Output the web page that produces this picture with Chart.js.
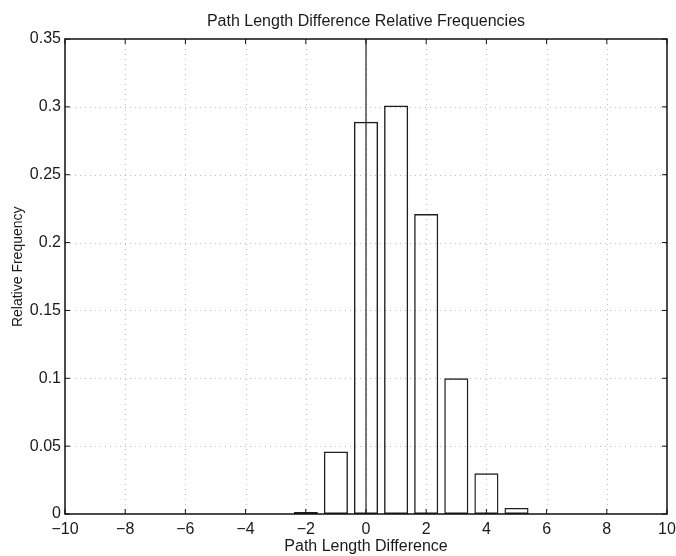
<!DOCTYPE html>
<html><head><meta charset="utf-8">
<script src="https://cdn.jsdelivr.net/npm/chart.js@4.4.0/dist/chart.umd.min.js"></script>
<style>html,body{margin:0;padding:0;background:#fff}#wrap{width:676px;height:556px}</style>
</head><body><div id="wrap"><canvas id="c" width="676" height="556"></canvas></div>
<script>
const binCenters = [-2, -1, 0, 1, 2, 3, 4, 5];
const relFreq = [0.0015, 0.046, 0.289, 0.301, 0.221, 0.100, 0.030, 0.0045];
const xTicks = [-10, -8, -6, -4, -2, 0, 2, 4, 6, 8, 10];
const xTickLabels = ['\u221210', '\u22128', '\u22126', '\u22124', '\u22122', '0', '2', '4', '6', '8', '10'];
const yTicks = [0, 0.05, 0.1, 0.15, 0.2, 0.25, 0.3, 0.35];
const yTickLabels = ['0', '0.05', '0.1', '0.15', '0.2', '0.25', '0.3', '0.35'];
const refLineX = [0];

const FONT = "'Liberation Sans', Arial, Helvetica, sans-serif";
const TXT = '#1a1a1a';

const framePlugin = {
  id: 'frame',
  beforeDatasetsDraw(chart) {
    const {ctx, chartArea: a, scales: {x, y}} = chart;
    ctx.save();
    ctx.strokeStyle = '#bdbdbd';
    ctx.lineWidth = 1;
    ctx.setLineDash([1, 4]);
    xTicks.forEach(v => {
      const px = Math.round(x.getPixelForValue(v)) + 0.5;
      if (px <= a.left + 2 || px >= a.right - 2) return;
      ctx.beginPath(); ctx.moveTo(px, a.top); ctx.lineTo(px, a.bottom); ctx.stroke();
    });
    yTicks.forEach(v => {
      const py = Math.round(y.getPixelForValue(v)) + 0.5;
      if (py <= a.top + 2 || py >= a.bottom - 2) return;
      ctx.beginPath(); ctx.moveTo(a.left, py); ctx.lineTo(a.right, py); ctx.stroke();
    });
    ctx.restore();
  },
  afterDatasetsDraw(chart) {
    const {ctx, chartArea: a, scales: {x, y}} = chart;
    ctx.save();
    ctx.setLineDash([]);
    ctx.strokeStyle = '#222';
    ctx.lineWidth = 1.2;
    refLineX.forEach(v => {
      const px = x.getPixelForValue(v);
      ctx.beginPath(); ctx.moveTo(px, a.top); ctx.lineTo(px, a.bottom); ctx.stroke();
    });
    ctx.lineWidth = 1.5;
    ctx.strokeStyle = '#111';
    ctx.strokeRect(a.left, a.top, a.right - a.left, a.bottom - a.top);
    const tl = 5;
    ctx.lineWidth = 1;
    xTicks.forEach(v => {
      const px = x.getPixelForValue(v);
      ctx.beginPath();
      ctx.moveTo(px, a.bottom); ctx.lineTo(px, a.bottom - tl);
      ctx.moveTo(px, a.top); ctx.lineTo(px, a.top + tl);
      ctx.stroke();
    });
    yTicks.forEach(v => {
      const py = y.getPixelForValue(v);
      ctx.beginPath();
      ctx.moveTo(a.left, py); ctx.lineTo(a.left + tl, py);
      ctx.moveTo(a.right, py); ctx.lineTo(a.right - tl, py);
      ctx.stroke();
    });
    ctx.restore();
  }
};

new Chart(document.getElementById('c'), {
  type: 'bar',
  data: {
    datasets: [{
      data: binCenters.map((c, i) => ({x: c, y: relFreq[i]})),
      backgroundColor: 'rgba(255,255,255,0)',
      borderColor: '#1e1e1e',
      borderWidth: 1.4,
      borderSkipped: false,
      barPercentage: 0.8,
      categoryPercentage: 1.0,
      xAxisID: 'x',
      yAxisID: 'y'
    }]
  },
  options: {
    responsive: false,
    animation: false,
    events: [],
    layout: {padding: {left: 0, right: 9, top: 0, bottom: 0}},
    plugins: {
      legend: {display: false},
      tooltip: {enabled: false},
      title: {display: false}
    },
    scales: {
      x: {
        type: 'linear',
        position: 'bottom',
        offset: false,
        min: -10, max: 10,
        afterBuildTicks: s => { s.ticks = xTicks.map(v => ({value: v})); },
        afterFit: s => { s.height = 42; s.paddingLeft = 0; s.paddingRight = 0; },
        ticks: {
          color: TXT,
          font: {family: FONT, size: 16},
          padding: 6,
          maxRotation: 0,
          autoSkip: false,
          callback: (v) => xTickLabels[xTicks.indexOf(v)]
        },
        grid: {display: false, drawTicks: false, offset: false},
        border: {display: false},
        title: {
          display: true,
          text: 'Path Length Difference',
          color: TXT,
          font: {family: FONT, size: 16},
          padding: {top: 0, bottom: 0}
        }
      },
      xTop: {
        type: 'linear',
        position: 'top',
        offset: false,
        min: -10, max: 10,
        afterFit: s => { s.height = 39; s.paddingLeft = 0; s.paddingRight = 0; },
        ticks: {display: false},
        grid: {display: false, drawTicks: false},
        border: {display: false},
        title: {
          display: true,
          text: 'Path Length Difference Relative Frequencies',
          color: TXT,
          font: {family: FONT, size: 16},
          padding: {top: 12, bottom: 0}
        }
      },
      y: {
        min: 0, max: 0.35,
        afterBuildTicks: s => { s.ticks = yTicks.map(v => ({value: v})); },
        afterFit: s => { s.width = 65; s.paddingTop = 0; s.paddingBottom = 0; },
        ticks: {
          color: TXT,
          font: {family: FONT, size: 16},
          padding: 4,
          autoSkip: false,
          callback: (v) => yTickLabels[yTicks.findIndex(t => Math.abs(t - v) < 1e-9)]
        },
        grid: {display: false, drawTicks: false},
        border: {display: false},
        title: {
          display: true,
          text: '     Relative Frequency',
          color: TXT,
          font: {family: FONT, size: 14},
          padding: {top: 10, bottom: 0}
        }
      }
    }
  },
  plugins: [framePlugin]
});
</script>
</body></html>
